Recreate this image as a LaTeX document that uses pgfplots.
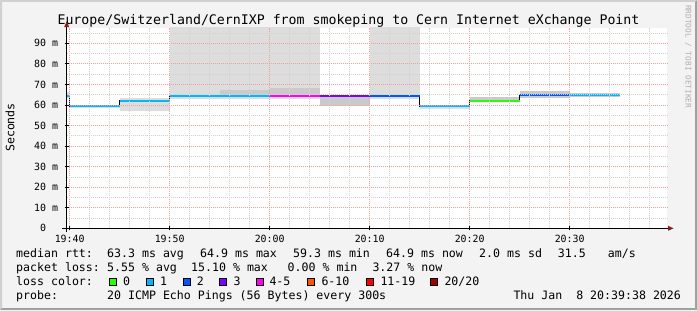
\documentclass[border=0pt]{standalone}
\usepackage{pgfplots}
\pgfplotsset{compat=1.18}
\usepackage{fontspec}
\setmainfont{DejaVu Sans Mono}
\newfontfamily\mono{DejaVu Sans Mono}
\definecolor{bgc}{HTML}{F3F3F3}
\definecolor{bordL}{HTML}{D0D0D0}
\definecolor{bordD}{HTML}{A0A0A0}
\definecolor{c0}{HTML}{26FF00}
\definecolor{c1}{HTML}{00B8FF}
\definecolor{c2}{HTML}{0059FF}
\definecolor{c3}{HTML}{7E00FF}
\definecolor{c4}{HTML}{FF00F0}
\definecolor{c6}{HTML}{FF5500}
\definecolor{c11}{HTML}{FF0000}
\definecolor{c20}{HTML}{A10000}
\definecolor{smokeL}{HTML}{DDDDDD}
\definecolor{smokeM}{HTML}{CACACA}
\definecolor{gridmaj}{HTML}{EFA0A0}
\definecolor{gridmin}{HTML}{D2D2D2}
\definecolor{arrowc}{HTML}{8B1A1A}
\definecolor{wm}{HTML}{B0B0B0}
\newcommand\tf{\fontsize{13.29}{14}\selectfont}
\newcommand\lf{\fontsize{11.63}{13}\selectfont}
\newcommand\af{\fontsize{9.97}{11}\selectfont}
\newcommand\wf{\fontsize{7.8}{9}\selectfont}
\begin{document}
\begin{tikzpicture}[x=1bp,y=1bp]
\path[use as bounding box, fill=bgc] (0,0) rectangle (697,310);
% border
\fill[bordL] (0,310) -- (697,310) -- (695,308) -- (2,308) -- cycle;
\fill[bordL] (0,0) -- (0,310) -- (2,308) -- (2,2) -- cycle;
\fill[bordD] (0,0) -- (697,0) -- (695,2) -- (2,2) -- cycle;
\fill[bordD] (697,0) -- (697,310) -- (695,308) -- (695,2) -- cycle;
\begin{axis}[
  at={(66.7bp,81.7bp)}, anchor=south west,
  width=600.6bp, height=200.6bp, scale only axis,
  xmin=-0.3, xmax=59.76, ymin=0, ymax=97.6,
  axis background/.style={fill=white},
  axis line style={draw=none},
  axis on top,
  xtick={0,10,20,30,40,50},
  xticklabels={19:40,19:50,20:00,20:10,20:20,20:30},
  minor xtick={2,4,6,8,12,14,16,18,22,24,26,28,32,34,36,38,42,44,46,48,52,54,56,58},
  ytick={0,10,20,30,40,50,60,70,80,90},
  yticklabels={0\phantom{mm},10 m,20 m,30 m,40 m,50 m,60 m,70 m,80 m,90 m},
  minor ytick={5,15,25,35,45,55,65,75,85,95},
  grid=both,
  major grid style={gridmaj, dash pattern=on 1bp off 1bp, line width=0.8bp},
  minor grid style={gridmin, dash pattern=on 1bp off 1bp, line width=0.8bp},
  tick pos=left,
  tick align=center,
  major tick length=4bp,
  minor tick length=0bp,
  tick style={black, line width=0.8bp},
  xticklabel style={font=\mono\af, inner sep=0pt, anchor=north},
  yticklabel style={font=\mono\af, inner sep=0pt, anchor=east},
  xticklabel shift=5bp,
  yticklabel shift=6.5bp,
]
% smoke
\addplot[fill=smokeL, draw=none] coordinates {(-0.3,63.5) (0,63.5) (0,66.5) (-0.3,66.5)} --cycle;
\addplot[fill=smokeL, draw=none] coordinates {(0,58.6) (5,58.6) (5,60.1) (0,60.1)} --cycle;
\addplot[fill=smokeL, draw=none] coordinates {(5,57.2) (10,57.2) (10,63.5) (5,63.5)} --cycle;
\addplot[fill=smokeL, draw=none] coordinates {(10,62.9) (25,62.9) (25,100) (10,100)} --cycle;
\addplot[fill=smokeL, draw=none] coordinates {(30,62.9) (35,62.9) (35,100) (30,100)} --cycle;
\addplot[fill=smokeM, draw=none] coordinates {(15,64.4) (20,64.4) (20,67.3) (15,67.3)} --cycle;
\addplot[fill=smokeM, draw=none] coordinates {(20,64.4) (25,64.4) (25,68.4) (20,68.4)} --cycle;
\addplot[fill=smokeM, draw=none] coordinates {(25,59.7) (30,59.7) (30,64.6) (25,64.6)} --cycle;
\addplot[fill=smokeL, draw=none] coordinates {(35,57.9) (40,57.9) (40,59.6) (35,59.6)} --cycle;
\addplot[fill=smokeM, draw=none] coordinates {(40,62.0) (45,62.0) (45,64.0) (40,64.0)} --cycle;
\addplot[fill=smokeM, draw=none] coordinates {(45,63.3) (50,63.3) (50,66.8) (45,66.8)} --cycle;
\addplot[fill=smokeM, draw=none] coordinates {(50,63.9) (55,63.9) (55,65.8) (50,65.8)} --cycle;
% median stair (black)
\addplot[black, line width=0.9bp, const plot, mark=none] coordinates {
(-0.3,64.5) (0,59.4) (5,62.1) (10,64.4) (15,64.4) (20,64.4) (25,64.5) (30,64.5) (35,59.4) (40,62.0) (45,64.8) (50,64.9) (55,64.9)};
% coloured median segments
\addplot[c1, line width=2bp, mark=none] coordinates {(-0.3,64.5) (0,64.5)};
\addplot[c1, line width=2bp, mark=none] coordinates {(0,59.4) (5,59.4)};
\addplot[c1, line width=2bp, mark=none] coordinates {(5,62.1) (10,62.1)};
\addplot[c1, line width=2bp, mark=none] coordinates {(10,64.4) (20,64.4)};
\addplot[c4, line width=2bp, mark=none] coordinates {(20,64.4) (25,64.4)};
\addplot[c3, line width=2bp, mark=none] coordinates {(25,64.5) (30,64.5)};
\addplot[c2, line width=2bp, mark=none] coordinates {(30,64.5) (35,64.5)};
\addplot[c1, line width=2bp, mark=none] coordinates {(35,59.4) (40,59.4)};
\addplot[c0, line width=2bp, mark=none] coordinates {(40,62.0) (45,62.0)};
\addplot[c2, line width=2bp, mark=none] coordinates {(45,64.8) (50,64.8)};
\addplot[c1, line width=2bp, mark=none] coordinates {(50,64.9) (55,64.9)};
\end{axis}
% axis lines and arrows
\draw[line width=0.9bp] (62,81.7) -- (668,81.7);
\fill[arrowc] (668,79.2) -- (673.5,81.7) -- (668,84.2) -- cycle;
\draw[line width=0.9bp] (66.7,78.5) -- (66.7,283);
\fill[arrowc] (64.2,283) -- (66.7,288.5) -- (69.2,283) -- cycle;
% title
\node[anchor=base, font=\mono\tf, inner sep=0pt] at (348.5,286) {Europe/Switzerland/CernIXP from smokeping to Cern Internet eXchange Point};
% y label
\node[rotate=90, font=\mono\lf, inner sep=0pt] at (10,182.5) {Seconds};
% watermark
\node[rotate=-90, anchor=base west, font=\mono\wf, text=wm, inner sep=0pt] at (685.5,305) {RRDTOOL / TOBI OETIKER};
% legend
\begin{scope}[every node/.style={anchor=base west, font=\mono\lf, inner sep=0pt}]
\node at (16,52.3) {median rtt:};
\node at (107,52.3) {63.3 ms avg};
\node at (200,52.3) {64.9 ms max};
\node at (293,52.3) {59.3 ms min};
\node at (386,52.3) {64.9 ms now};
\node at (479,52.3) {2.0 ms sd};
\node at (557.7,52.3) {31.5};
\node at (607.7,52.3) {am/s};
\node at (16,38.3) {packet loss:};
\node at (107,38.3) {5.55 \% avg};
\node at (191,38.3) {15.10 \% max};
\node at (287.5,38.3) {0.00 \% min};
\node at (372.3,38.3) {3.27 \% now};
\node at (16,24.3) {loss color:};
\node at (123,24.3) {0};
\node at (160,24.3) {1};
\node at (196.7,24.3) {2};
\node at (233.3,24.3) {3};
\node at (269.3,24.3) {4-5};
\node at (321.3,24.3) {6-10};
\node at (380.3,24.3) {11-19};
\node at (444.3,24.3) {20/20};
\node at (16,10.8) {probe:};
\node at (107,10.8) {20 ICMP Echo Pings (56 Bytes) every 300s};
\node at (513.3,10.8) {Thu Jan\ \ 8 20:39:38 2026};
\end{scope}
\foreach \xx/\cc in {109/c0,146/c1,183/c2,219.5/c3,256/c4,307.3/c6,366/c11,430.6/c20}{
  \filldraw[fill=\cc, draw=black, line width=0.9bp] (\xx,24.5) rectangle ++(7,7);
}
\end{tikzpicture}
\end{document}
